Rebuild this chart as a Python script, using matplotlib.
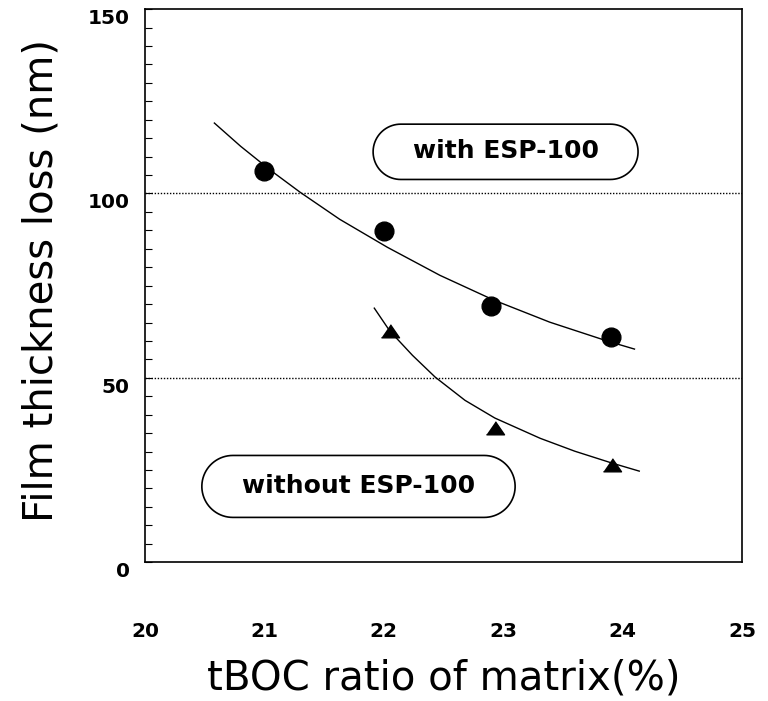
import numpy as np
import matplotlib
matplotlib.use("Agg")
import matplotlib.pyplot as plt
from matplotlib.patches import Polygon

# measured points
tbocWith = [21.0, 22.0, 22.9, 23.9]
lossWith = [106.0, 89.8, 69.4, 61.0]
tbocWithout = [22.05, 22.93, 23.91]
lossWithout = [62.7, 36.3, 26.3]

# fitted curves
fitWithX = [20.58, 20.80, 21.05, 21.30, 21.63, 22.03, 22.47, 22.92, 23.39, 23.88, 24.10]
fitWithY = [119.1, 112.8, 106.3, 100.3, 93.0, 85.4, 77.8, 71.1, 65.1, 59.9, 57.8]
fitWithoutX = [21.92, 22.05, 22.24, 22.43, 22.68, 22.93, 23.31, 23.60, 23.91, 24.14]
fitWithoutY = [68.9, 62.7, 56.1, 50.2, 43.9, 39.1, 33.6, 30.1, 26.9, 24.7]

refLines = [100, 50]
xTicks = [20, 21, 22, 23, 24, 25]
yTicks = [0, 50, 100, 150]


def PillShape(ax, bx, by, bw, bh):
    # rounded-end box in axes fraction, ends are true half circles on screen
    fig = ax.figure
    axW = ax.get_position().width * fig.get_size_inches()[0]
    axH = ax.get_position().height * fig.get_size_inches()[1]
    ry = bh / 2
    rx = ry * axH / axW
    t = np.linspace(-np.pi / 2, np.pi / 2, 40)
    right = np.column_stack([bx + bw - rx + rx * np.cos(t), by + ry + ry * np.sin(t)])
    left = np.column_stack([bx + rx - rx * np.cos(t), by + ry - ry * np.sin(t)])
    return Polygon(np.vstack([right, left]), closed=True, transform=ax.transAxes,
                   facecolor='white', edgecolor='black', linewidth=1.2)


def main():
    plt.rcParams['font.family'] = ['DejaVu Sans']
    plt.rcParams['ytick.alignment'] = 'top'

    fig = plt.figure(figsize=(7.68, 7.01), dpi=100)
    ax = fig.add_axes([0.189, 0.198, 0.777, 0.789])

    for y in refLines:
        ax.axhline(y, color='black', linestyle=(0, (1, 1.2)), linewidth=1.0)

    ax.plot(fitWithX, fitWithY, color='black', linewidth=1.0)
    ax.plot(fitWithoutX, fitWithoutY, color='black', linewidth=1.0)

    ax.plot(tbocWith, lossWith, linestyle='none', marker='o', markersize=13.5,
            color='black')
    flatTriangle = [(-1, -0.7), (1, -0.7), (0, 0.75)]
    ax.plot(tbocWithout, lossWithout, linestyle='none', marker=flatTriangle,
            markersize=13, color='black')

    ax.set_xlim(20, 25)
    ax.set_ylim(0, 150)
    ax.set_xticks(xTicks)
    ax.set_xticklabels([str(t) for t in xTicks], fontsize=14.5, fontweight='bold')
    ax.set_yticks(yTicks)
    ax.set_yticklabels([str(t) for t in yTicks], fontsize=14.5, fontweight='bold')
    ax.set_yticks(np.arange(0, 151, 5), minor=True)
    ax.tick_params(axis='x', length=0, pad=43)
    ax.tick_params(axis='y', which='both', direction='in', length=5, width=0.8,
                   pad=11, left=True, right=False)
    for s in ax.spines.values():
        s.set_linewidth(1.2)

    ax.set_xlabel("tBOC ratio of matrix(%)", fontsize=29)
    ax.xaxis.set_label_coords(0.5, -0.175)
    ax.set_ylabel("Film thickness loss (nm)", fontsize=29)
    ax.yaxis.set_label_coords(-0.14, 0.51)

    boxes = [
        ("with ESP-100", 0.382, 0.692, 0.444, 0.100, 0.604, 0.743),
        ("without ESP-100", 0.095, 0.081, 0.525, 0.112, 0.358, 0.137),
    ]
    for txt, bx, by, bw, bh, tx, ty in boxes:
        ax.add_patch(PillShape(ax, bx, by, bw, bh))
        ax.text(tx, ty, txt, transform=ax.transAxes, ha='center', va='center',
                fontsize=18, fontweight='bold')

    fig.savefig("out.png", dpi=100)


if __name__ == "__main__":
    main()
